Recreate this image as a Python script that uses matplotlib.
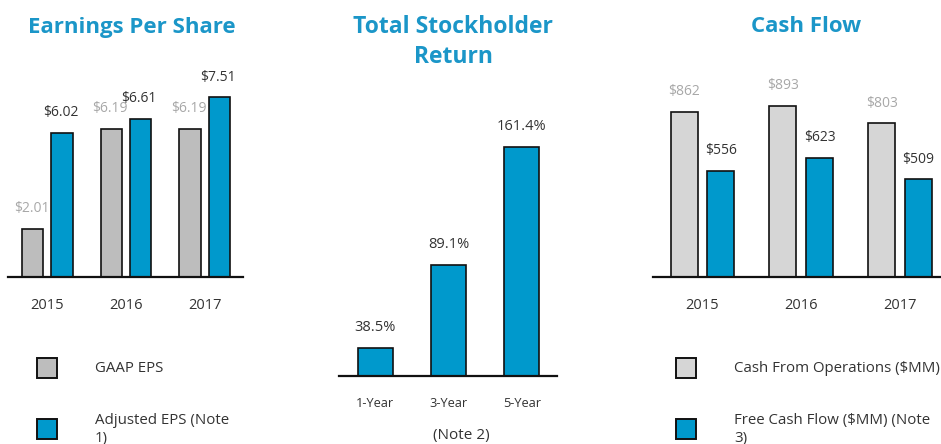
import matplotlib

matplotlib.use("Agg")
import matplotlib.pyplot as plt
from matplotlib.patches import Rectangle

plt.rcParams["font.family"] = ["Open Sans", "DejaVu Sans"]

# ---- data ----
eps_years = ["2015", "2016", "2017"]
gaap_eps = [2.01, 6.19, 6.19]
adjusted_eps = [6.02, 6.61, 7.51]

tsr_periods = ["1-Year", "3-Year", "5-Year"]
tsr_values = [38.5, 89.1, 161.4]

cf_years = ["2015", "2016", "2017"]
cash_ops = [862, 893, 803]
free_cash = [556, 623, 509]

BLUE = "#0099cc"
GRAY_EPS = "#bdbdbd"
GRAY_CF = "#d6d6d6"
TITLE = "#1b96c8"
LBL_LIGHT = "#a8a8a8"
LBL_DARK = "#333333"

W, H = 941, 444
fig = plt.figure(figsize=(W / 100, H / 100), dpi=100)


def px_axes(x0, x1, y_top, y_base):
    """axes placed by pixel box (y measured from top)"""
    return fig.add_axes([x0 / W, 1 - y_base / H, (x1 - x0) / W, (y_base - y_top) / H])


def style(ax):
    for s in ("top", "right", "left"):
        ax.spines[s].set_visible(False)
    ax.spines["bottom"].set_linewidth(1.6)
    ax.spines["bottom"].set_color("#111111")
    ax.set_yticks([])
    ax.tick_params(axis="x", length=0)
    ax.patch.set_alpha(0)


def label(ax, x, y, txt, color, size=10):
    ax.annotate(txt, (x, y), xytext=(0, 14.5), textcoords="offset points",
                ha="center", va="center", fontsize=size, color=color)


def legend_item(x, y, color, txt):
    # square of 20 px with its top at y; text centred on the square
    fig.add_artist(Rectangle((x / W, 1 - (y + 20) / H), 20 / W, 20 / H,
                             transform=fig.transFigure, facecolor=color,
                             edgecolor="#111111", linewidth=1.4))
    fig.text((x + 58) / W, 1 - (y + 10.5) / H, txt, ha="left", va="center",
             fontsize=10.8, color="#333333", linespacing=1.2)


# ---- Earnings Per Share ----
ax = px_axes(8, 243, 60, 276.7)
style(ax)
xs = range(len(eps_years))
off, bw = 0.185, 0.268
ax.bar([x - off for x in xs], gaap_eps, bw, color=GRAY_EPS, edgecolor="#111111", linewidth=1.2)
ax.bar([x + off for x in xs], adjusted_eps, bw, color=BLUE, edgecolor="#111111", linewidth=1.2)
for x, v in zip(xs, gaap_eps):
    label(ax, x - off - 0.02, v, f"${v:.2f}", LBL_LIGHT)
for x, v in zip(xs, adjusted_eps):
    label(ax, x + off - 0.02, v, f"${v:.2f}", LBL_DARK)
ax.set_xlim(-0.503, 2.49)
ax.set_ylim(0, (276.7 - 60) / 23.9)
ax.set_xticks(list(xs), eps_years, fontsize=10.5, color="#333333")
ax.tick_params(axis="x", pad=15.5)
fig.text(131.5 / W, 1 - 27 / H, "Earnings Per Share", ha="center", va="center",
         fontsize=16, fontweight="bold", color=TITLE)
legend_item(37, 357.5, GRAY_EPS, "GAAP EPS")
legend_item(37, 419, BLUE, "Adjusted EPS (Note\n1)")

# ---- Total Stockholder Return ----
ax = px_axes(339, 557, 100, 375.7)
style(ax)
xs = range(len(tsr_periods))
ax.bar(list(xs), tsr_values, 0.478, color=BLUE, edgecolor="#111111", linewidth=1.2)
for x, v in zip(xs, tsr_values):
    label(ax, x, v, f"{v:.1f}%", LBL_DARK, size=10.5)
ax.set_xlim(-0.494, 2.48)
ax.set_ylim(21.4, 21.4 + (375.7 - 100) / 1.636)
ax.set_xticks(list(xs), tsr_periods, fontsize=9.2, color="#333333")
ax.tick_params(axis="x", pad=15)
fig.text(453 / W, 1 - 42 / H, "Total Stockholder\nReturn", ha="center", va="center",
         fontsize=16.5, fontweight="bold", color=TITLE, linespacing=1.3)
fig.text(461.5 / W, 1 - 435 / H, "(Note 2)", ha="center", va="center",
         fontsize=11, color="#333333")

# ---- Cash Flow ----
ax = px_axes(652.7, 941, 60, 276.7)
style(ax)
xs = range(len(cf_years))
off, bw = 0.185, 0.273
ax.bar([x - off for x in xs], cash_ops, bw, color=GRAY_CF, edgecolor="#111111", linewidth=1.2)
ax.bar([x + off for x in xs], free_cash, bw, color=BLUE, edgecolor="#111111", linewidth=1.2)
for x, v in zip(xs, cash_ops):
    label(ax, x - off, v, f"${v}", LBL_LIGHT)
for x, v in zip(xs, free_cash):
    label(ax, x + off, v, f"${v}", LBL_DARK)
ax.set_xlim(-0.504, 2.415)
ax.set_ylim(0, (276.7 - 60) / 0.191)
ax.set_xticks(list(xs), cf_years, fontsize=10.5, color="#333333")
ax.tick_params(axis="x", pad=15.5)
fig.text(806 / W, 1 - 27 / H, "Cash Flow", ha="center", va="center",
         fontsize=16, fontweight="bold", color=TITLE)
legend_item(676, 357.5, GRAY_CF, "Cash From Operations ($MM)")
legend_item(676, 419, BLUE, "Free Cash Flow ($MM) (Note\n3)")

fig.savefig("out.png", dpi=100)
